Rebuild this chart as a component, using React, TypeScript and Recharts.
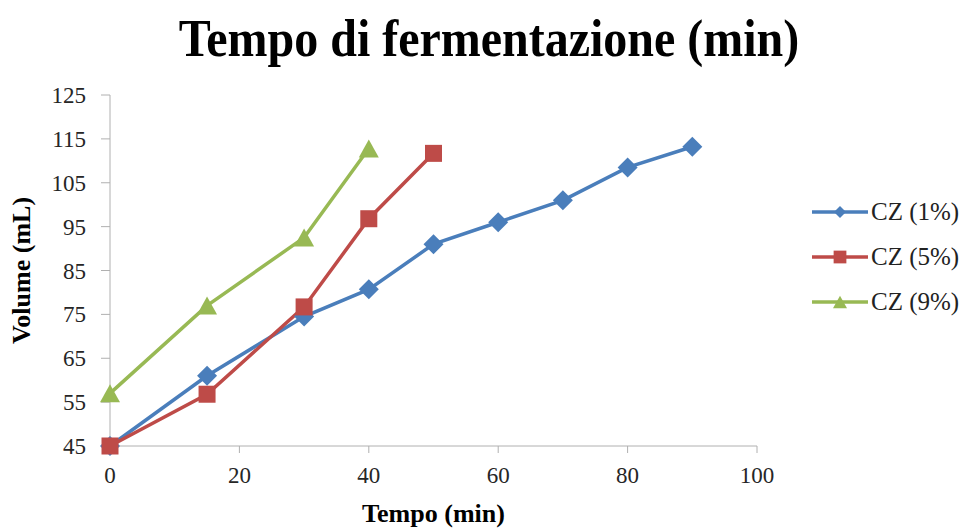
import React from "react";
import { LineChart, Line, XAxis, YAxis } from "recharts";

const xTicks = [0, 20, 40, 60, 80, 100];
const yTicks = [45, 55, 65, 75, 85, 95, 105, 115, 125];

const times1 = [0, 15, 30, 40, 50, 60, 70, 80, 90];
const cz1 = [45, 61, 74.5, 80.7, 91, 96, 101, 108.5, 113.2];
const times5 = [0, 15, 30, 40, 50];
const cz5 = [45, 56.8, 76.7, 96.8, 111.7];
const times9 = [0, 15, 30, 40];
const cz9 = [57, 77, 92.5, 112.8];

const seriesNames = ["CZ (1%)", "CZ (5%)", "CZ (9%)"];
const seriesColors = ["#4a7ebb", "#be4b48", "#98b954"];

const toData = (xs: number[], ys: number[]) => xs.map((t, i) => ({ t, v: ys[i] }));
const data1 = toData(times1, cz1);
const data5 = toData(times5, cz5);
const data9 = toData(times9, cz9);

const FONT = "Liberation Serif";

const Diamond = (props: any) => {
  const { cx, cy, fill } = props;
  if (cx == null || cy == null) return null;
  const r = 10;
  return <path d={`M${cx},${cy - r}L${cx + r},${cy}L${cx},${cy + r}L${cx - r},${cy}Z`} fill={fill} />;
};
const Square = (props: any) => {
  const { cx, cy, fill } = props;
  if (cx == null || cy == null) return null;
  const s = 17;
  return <rect x={cx - s / 2} y={cy - s / 2} width={s} height={s} fill={fill} />;
};
const Triangle = (props: any) => {
  const { cx, cy, fill } = props;
  if (cx == null || cy == null) return null;
  const w = 20, h = 18;
  return <path d={`M${cx},${cy - h / 2}L${cx + w / 2},${cy + h / 2}L${cx - w / 2},${cy + h / 2}Z`} fill={fill} />;
};

const markers = [Diamond, Square, Triangle];
const legendScale = [0.6, 0.75, 0.7];

const XTick = (p: any) => (
  <text x={p.x} y={p.y} dy={17} textAnchor="middle" fontFamily={FONT} fontSize={23} fill="#262626">
    {p.payload.value}
  </text>
);
const YTick = (p: any) => (
  <text x={p.x} y={p.y} dy={8} textAnchor="end" fontFamily={FONT} fontSize={23} fill="#262626">
    {p.payload.value}
  </text>
);

export default function App() {
  return (
    <div style={{ position: "absolute", left: 0, top: 0, width: 968, height: 528, background: "#fff", overflow: "hidden" }}>
      <svg width={968} height={80} style={{ position: "absolute", left: 0, top: 0 }}>
        <text
          x={489}
          y={56}
          textAnchor="middle"
          fontFamily={FONT}
          fontWeight="bold"
          fontSize={48}
          fill="#000"
          transform="translate(0,56) scale(1,1.08) translate(0,-56)"
        >
          Tempo di fermentazione (min)
        </text>
      </svg>
      <LineChart width={968} height={528} margin={{ top: 95, right: 211, left: 0, bottom: 0 }}>
        <XAxis
          type="number"
          dataKey="t"
          domain={[0, 100]}
          ticks={xTicks}
          allowDuplicatedCategory={false}
          height={82}
          stroke="#b0b0b0"
          tickSize={7}
          tickMargin={13}
          tick={XTick}
          label={{
            value: "Tempo (min)",
            position: "insideBottom",
            offset: 6,
            fontFamily: FONT,
            fontWeight: "bold",
            fontSize: 26,
            fill: "#000",
          }}
        />
        <YAxis
          type="number"
          domain={[45, 125]}
          ticks={yTicks}
          width={110}
          stroke="#b0b0b0"
          tickSize={9}
          tickMargin={15}
          tick={YTick}
          label={{
            value: "Volume (mL)",
            angle: -90,
            position: "insideLeft",
            offset: 21,
            fontFamily: FONT,
            fontWeight: "bold",
            fontSize: 26,
            fill: "#000",
            textAnchor: "middle",
          }}
        />
        <Line data={data1} dataKey="v" name={seriesNames[0]} stroke={seriesColors[0]} strokeWidth={3.5}
          dot={<Diamond fill={seriesColors[0]} />} isAnimationActive={false} />
        <Line data={data5} dataKey="v" name={seriesNames[1]} stroke={seriesColors[1]} strokeWidth={3.5}
          dot={<Square fill={seriesColors[1]} />} isAnimationActive={false} />
        <Line data={data9} dataKey="v" name={seriesNames[2]} stroke={seriesColors[2]} strokeWidth={3.5}
          dot={<Triangle fill={seriesColors[2]} />} isAnimationActive={false} />
      </LineChart>
      <svg width={156} height={140} style={{ position: "absolute", left: 812, top: 190 }}>
        {seriesNames.map((n, i) => {
          const M = markers[i];
          const cy = 22 + i * 45;
          return (
            <g key={n}>
              <line x1={0} y1={cy} x2={56} y2={cy} stroke={seriesColors[i]} strokeWidth={3.5} />
              <g transform={`translate(28,${cy}) scale(${legendScale[i]}) translate(-28,${-cy})`}>
                <M cx={28} cy={cy} fill={seriesColors[i]} />
              </g>
              <text x={59} y={cy + 8} fontFamily={FONT} fontSize={25} fill="#222">{n}</text>
            </g>
          );
        })}
      </svg>
    </div>
  );
}
